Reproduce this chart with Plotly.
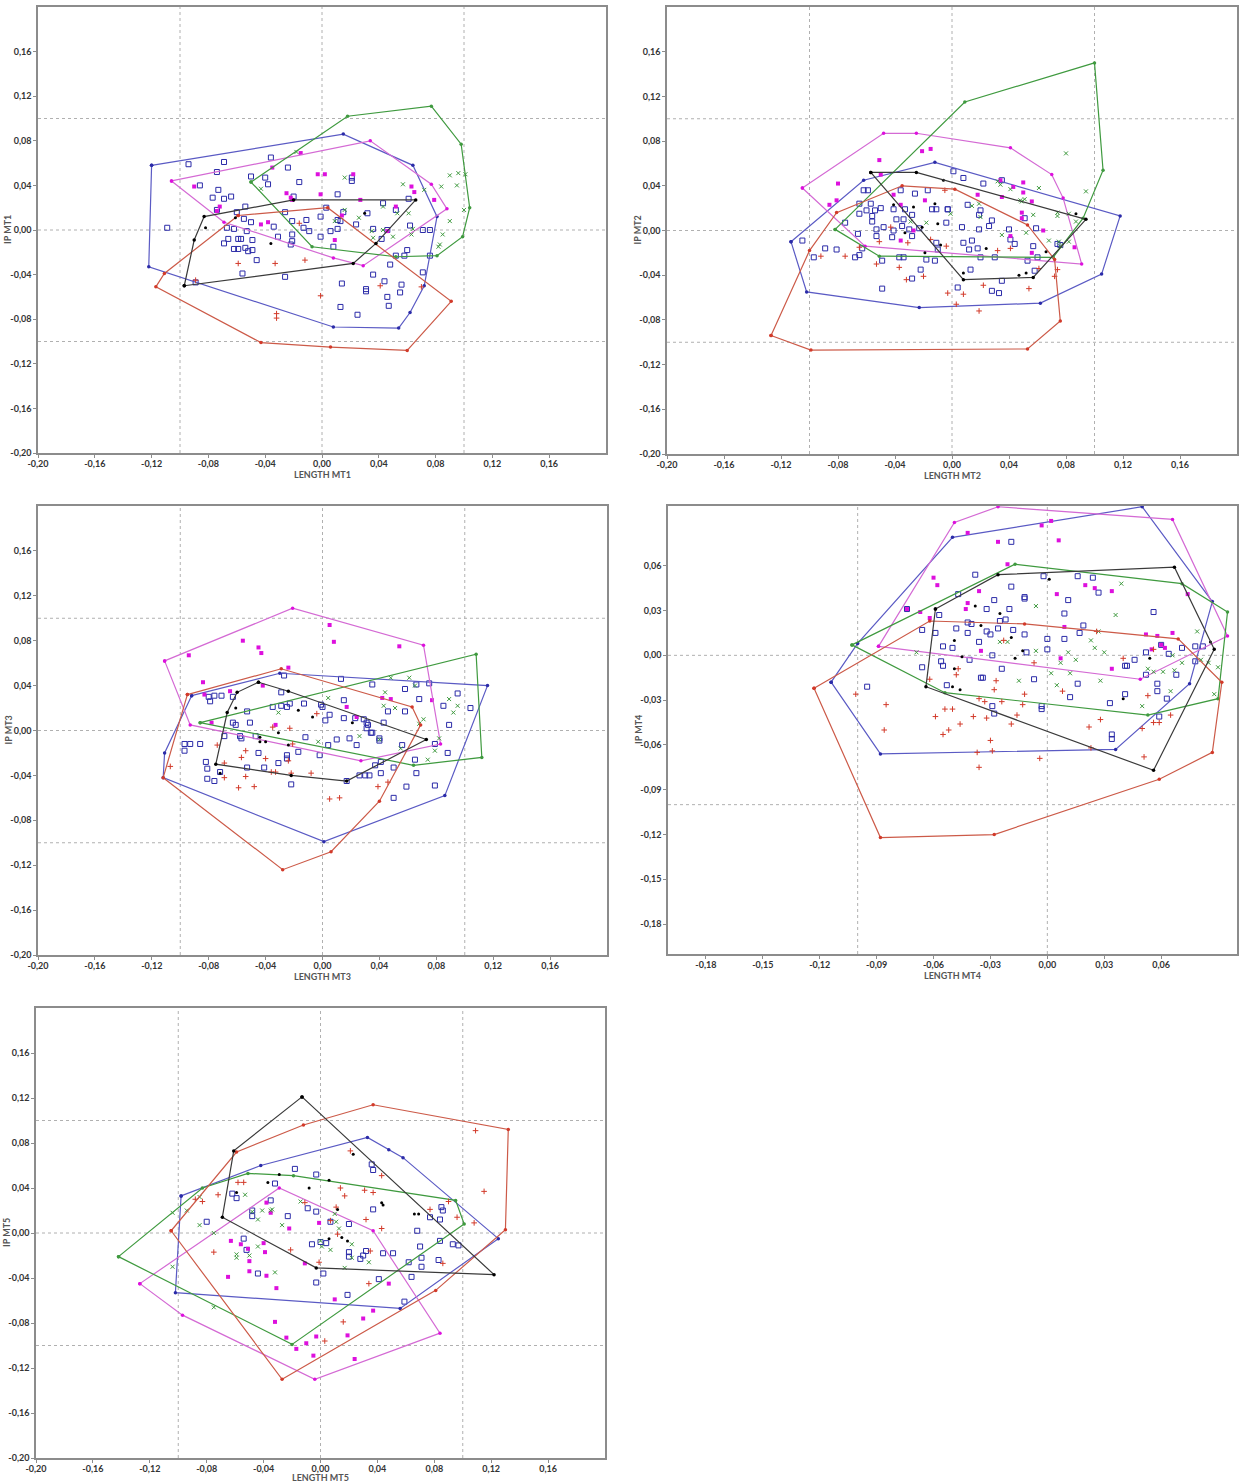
import plotly.graph_objects as go

# ---------------- DATA ----------------
# Panel MT1
MT1_BLUE_HULL = [(-0.120,0.058),(0.015,0.086),(0.064,0.058),(0.081,0.012),(0.072,-0.050),(0.062,-0.074),(0.054,-0.088),(0.008,-0.087),(-0.122,-0.033)]
MT1_BLUE_PTS = [(-0.109,0.002),(-0.094,0.059),(-0.086,0.040),(-0.077,0.029),(-0.073,0.036),(-0.074,0.052),(-0.069,0.028),(-0.069,0.061),(-0.064,0.030),(-0.074,0.018),(-0.067,0.002),(-0.066,-0.008),(-0.069,-0.012),(-0.062,0.001),(-0.060,0.016),(-0.059,-0.008),(-0.057,-0.008),(-0.062,-0.017),(-0.059,-0.017),(-0.056,-0.039),(-0.054,0.021),(-0.055,0.010),(-0.053,-0.001),(-0.054,-0.016),(-0.052,-0.019),(-0.050,0.007),(-0.049,-0.009),(-0.049,-0.018),(-0.046,-0.027),(-0.050,0.048),(-0.040,0.047),(-0.038,0.041),(-0.036,0.065),(-0.034,0.003),(-0.031,-0.006),(-0.026,0.016),(-0.026,-0.042),(-0.024,0.056),(-0.021,0.008),(-0.021,-0.004),(-0.021,-0.010),(-0.022,-0.013),(-0.020,0.030),(-0.016,0.043),(-0.013,0.002),(-0.011,0.009),(-0.009,-0.001),(-0.001,0.012),(-0.001,-0.006),(0.008,-0.015),(0.003,0.020),(0.006,-0.001),(0.011,0.009),(0.011,0.001),(0.013,0.008),(0.011,0.032),(0.015,0.016),(0.014,-0.048),(0.013,-0.069),(0.021,0.047),(0.021,0.044),(0.024,0.005),(0.025,-0.076),(0.031,-0.053),(0.031,-0.055),(0.032,0.015),(0.036,-0.040),(0.036,0.001),(0.042,-0.008),(0.043,0.024),(0.044,-0.046),(0.046,0.000),(0.048,-0.031),(0.046,-0.060),(0.047,-0.068),(0.052,0.018),(0.052,-0.023),(0.056,-0.049),(0.055,-0.056),(0.058,-0.023),(0.060,-0.018),(0.061,0.028),(0.062,0.004),(0.071,-0.038),(0.071,0.000),(0.076,0.000),(0.076,-0.023),(-0.089,-0.047)]
MT1_MAG_HULL = [(-0.106,0.044),(0.034,0.080),(0.077,0.041),(0.088,0.019),(0.029,-0.032),(0.008,-0.025),(-0.069,0.007)]
MT1_MAG_PTS = [(-0.090,0.039),(-0.072,0.021),(-0.074,0.017),(-0.043,0.005),(-0.038,0.007),(-0.035,0.056),(-0.025,0.033),(-0.022,0.029),(-0.021,0.027),(-0.015,0.069),(-0.003,0.050),(0.002,0.050),(-0.001,0.032),(0.009,-0.009),(0.014,0.013),(0.022,0.050),(0.027,0.027),(0.052,0.021),(0.063,0.039),(0.065,0.034),(0.079,0.027),(0.046,-0.001)]
MT1_GRN_HULL = [(-0.050,0.043),(0.018,0.102),(0.077,0.111),(0.098,0.077),(0.104,0.020),(0.099,-0.006),(0.081,-0.023),(0.052,-0.024),(-0.007,-0.015)]
MT1_GRN_PTS = [(-0.043,0.037),(-0.018,0.070),(0.016,0.047),(0.009,0.008),(0.016,0.018),(0.026,0.011),(0.035,-0.001),(0.043,0.000),(0.050,-0.006),(0.036,-0.007),(0.043,0.021),(0.053,0.015),(0.057,0.041),(0.061,0.015),(0.064,0.001),(0.063,-0.004),(0.085,-0.004),(0.083,-0.013),(0.082,-0.015),(0.084,0.039),(0.090,0.049),(0.096,0.051),(0.095,0.040),(0.101,0.050),(0.100,0.018),(0.090,0.008),(0.072,0.036)]
MT1_RED_HULL = [(-0.059,0.013),(0.004,0.020),(0.091,-0.064),(0.060,-0.108),(0.006,-0.105),(-0.043,-0.101),(-0.117,-0.051),(-0.111,-0.039)]
MT1_RED_PTS = [(-0.059,-0.030),(-0.033,-0.030),(-0.032,-0.075),(-0.032,-0.079),(-0.012,-0.027),(-0.016,0.006),(-0.001,-0.059),(0.041,-0.050),(0.070,-0.051),(-0.089,-0.045)]
MT1_BLK_HULL = [(-0.097,-0.050),(-0.090,-0.009),(-0.083,0.012),(-0.020,0.027),(0.066,0.027),(0.038,-0.012),(0.022,-0.030)]
MT1_BLK_PTS = [(-0.082,0.002),(-0.061,0.011),(-0.036,-0.012),(0.030,0.015)]

# Panel MT2
MT2_BLUE_HULL = [(-0.113,-0.010),(-0.102,-0.055),(-0.023,-0.069),(0.062,-0.065),(0.105,-0.039),(0.118,0.013),(-0.012,0.061),(-0.062,0.045)]
MT2_BLUE_PTS = [(-0.105,-0.009),(-0.089,-0.016),(-0.097,-0.024),(-0.081,-0.017),(-0.075,0.007),(-0.068,-0.024),(-0.066,-0.003),(-0.065,-0.022),(-0.065,0.015),(-0.065,0.024),(-0.063,-0.016),(-0.062,0.036),(-0.060,0.018),(-0.059,0.036),(-0.057,0.024),(-0.056,0.013),(-0.056,0.008),(-0.054,0.018),(-0.053,0.001),(-0.053,-0.005),(-0.050,0.020),(-0.049,-0.027),(-0.048,0.003),(-0.049,-0.052),(-0.042,-0.006),(-0.041,0.019),(-0.041,0.000),(-0.039,0.010),(-0.037,-0.024),(-0.036,0.036),(-0.035,0.004),(-0.034,-0.024),(-0.034,0.010),(-0.033,0.019),(-0.030,0.001),(-0.028,-0.043),(-0.028,0.014),(-0.028,-0.005),(-0.026,0.033),(-0.023,0.002),(-0.022,-0.035),(-0.018,-0.026),(-0.017,0.036),(-0.014,0.019),(-0.011,0.019),(-0.011,-0.011),(-0.010,-0.017),(-0.012,-0.027),(-0.004,0.007),(-0.003,0.019),(-0.003,0.019),(0.001,0.053),(0.004,-0.051),(0.007,0.003),(0.008,0.047),(0.008,-0.011),(0.011,0.023),(0.012,-0.017),(0.013,-0.035),(0.014,-0.009),(0.018,-0.016),(0.019,0.014),(0.020,0.018),(0.019,0.001),(0.022,0.042),(0.020,-0.024),(0.026,0.004),(0.028,0.009),(0.028,-0.054),(0.030,-0.024),(0.033,-0.056),(0.035,-0.045),(0.035,0.045),(0.040,0.001),(0.041,-0.008),(0.044,-0.012),(0.051,0.011),(0.053,-0.027),(0.057,-0.014),(0.058,-0.036),(0.059,0.002),(0.060,-0.024),(0.074,-0.012),(0.076,-0.013)]
MT2_MAG_HULL = [(-0.105,0.038),(-0.048,0.087),(-0.025,0.087),(0.041,0.074),(0.070,0.050),(0.078,0.029),(0.091,-0.030),(-0.061,-0.014)]
MT2_MAG_PTS = [(-0.051,0.063),(-0.015,0.073),(-0.021,0.071),(-0.050,0.050),(-0.080,0.042),(-0.081,0.027),(-0.086,0.023),(-0.041,0.032),(-0.036,0.023),(-0.036,-0.009),(-0.027,0.000),(-0.019,0.027),(0.018,0.032),(0.034,0.045),(0.035,0.030),(0.043,0.039),(0.050,0.043),(0.050,0.034),(0.056,0.026),(0.049,0.016),(0.049,0.011),(0.041,-0.005),(0.064,0.000),(0.086,-0.015),(0.056,-0.020)]
MT2_GRN_HULL = [(-0.082,0.001),(0.009,0.115),(0.100,0.150),(0.106,0.054),(0.092,0.011),(0.071,-0.024),(-0.051,-0.023)]
MT2_GRN_PTS = [(-0.029,0.008),(-0.018,0.007),(-0.001,0.015),(0.019,0.024),(0.014,0.022),(0.020,0.012),(0.032,0.044),(0.034,0.041),(0.041,0.037),(0.048,0.027),(0.049,0.026),(0.051,0.028),(0.057,0.014),(0.061,0.038),(0.052,-0.002),(0.035,-0.004),(0.068,-0.009),(0.074,0.016),(0.074,0.013),(0.075,-0.010),(0.076,-0.014),(0.080,0.069),(0.082,0.015),(0.087,0.008),(0.094,0.035),(0.082,-0.010)]
MT2_RED_HULL = [(-0.127,-0.094),(-0.099,-0.107),(0.053,-0.106),(0.076,-0.081),(0.072,-0.026),(0.053,0.005),(0.002,0.037),(-0.035,0.040),(-0.081,0.016),(-0.100,-0.018)]
MT2_RED_PTS = [(-0.092,-0.023),(-0.075,-0.023),(-0.065,-0.015),(-0.051,-0.010),(-0.053,-0.030),(-0.037,-0.033),(-0.032,-0.044),(-0.020,-0.041),(-0.031,-0.011),(-0.015,-0.008),(-0.004,-0.014),(-0.003,-0.056),(0.008,-0.057),(0.003,-0.066),(0.019,-0.072),(0.022,-0.049),(0.054,-0.052),(0.041,-0.016),(0.061,-0.034),(0.072,-0.041),(0.074,-0.035),(-0.005,0.036),(0.032,-0.018),(-0.043,0.003)]
MT2_BLK_HULL = [(-0.057,0.052),(-0.025,0.052),(0.094,0.010),(0.057,-0.042),(0.008,-0.044)]
MT2_BLK_PTS = [(-0.041,0.023),(-0.027,0.021),(-0.012,0.024),(-0.021,0.003),(-0.033,-0.002),(-0.010,0.006),(-0.008,-0.013),(-0.006,0.045),(-0.019,-0.020),(0.008,-0.038),(0.024,-0.016),(0.047,-0.040),(0.052,-0.038),(0.066,-0.019),(0.087,0.015)]

# Panel MT3
MT3_BLUE_HULL = [(-0.092,0.031),(-0.030,0.051),(0.116,0.040),(0.086,-0.058),(0.001,-0.099),(-0.112,-0.042),(-0.111,-0.020)]
MT3_BLUE_PTS = [(-0.097,-0.012),(-0.093,-0.012),(-0.097,-0.018),(-0.086,-0.012),(-0.080,0.030),(-0.079,0.026),(-0.076,0.031),(-0.071,0.031),(-0.082,-0.028),(-0.081,-0.034),(-0.081,-0.043),(-0.076,-0.045),(-0.072,-0.037),(-0.069,-0.005),(-0.063,0.030),(-0.063,0.007),(-0.061,0.005),(-0.058,-0.005),(-0.057,-0.007),(-0.053,0.017),(-0.053,-0.033),(-0.051,0.007),(-0.047,-0.005),(-0.045,-0.020),(-0.041,-0.033),(-0.035,0.021),(-0.031,-0.029),(-0.029,0.034),(-0.029,0.022),(-0.027,0.049),(-0.025,-0.022),(-0.025,0.021),(-0.025,-0.025),(-0.023,0.024),(-0.022,-0.048),(-0.017,-0.019),(-0.013,0.024),(-0.012,-0.006),(-0.002,-0.022),(-0.001,0.023),(0.000,0.021),(0.002,0.009),(0.005,0.014),(0.004,-0.013),(0.010,-0.008),(0.013,0.046),(0.015,0.011),(0.015,0.027),(0.017,-0.045),(0.019,-0.007),(0.023,0.011),(0.024,-0.013),(0.026,-0.040),(0.029,0.010),(0.030,-0.040),(0.031,0.007),(0.031,0.002),(0.032,0.005),(0.033,-0.040),(0.034,-0.002),(0.035,0.041),(0.035,-0.002),(0.037,-0.031),(0.040,-0.007),(0.040,-0.009),(0.041,-0.028),(0.041,-0.038),(0.043,0.007),(0.046,0.017),(0.050,-0.060),(0.050,-0.033),(0.056,-0.013),(0.058,0.017),(0.058,0.037),(0.059,-0.050),(0.065,-0.026),(0.066,-0.038),(0.066,0.041),(0.068,0.028),(0.075,0.042),(0.079,-0.012),(0.079,-0.049),(0.085,0.022),(0.088,-0.020),(0.089,0.005),(0.095,0.033),(0.104,0.020)]
MT3_MAG_HULL = [(-0.111,0.062),(-0.021,0.109),(0.071,0.076),(0.083,-0.012),(0.027,-0.027),(-0.093,0.005)]
MT3_MAG_PTS = [(-0.094,0.067),(-0.056,0.080),(-0.045,0.074),(-0.043,0.069),(0.005,0.094),(0.008,0.079),(0.054,0.075),(-0.024,0.056),(-0.084,0.043),(-0.083,0.032),(-0.065,0.035),(-0.042,0.040),(-0.033,0.005),(0.017,0.021),(0.024,0.012),(0.042,0.029),(0.048,0.028),(0.077,0.027),(-0.078,0.007)]
MT3_GRN_HULL = [(-0.086,0.007),(0.108,0.068),(0.112,-0.024),(0.064,-0.031)]
MT3_GRN_PTS = [(-0.031,0.016),(0.004,0.029),(-0.003,-0.010),(0.026,-0.005),(0.040,-0.008),(0.043,0.022),(0.044,0.034),(0.048,0.047),(0.051,0.020),(0.061,0.047),(0.065,0.040),(0.068,0.006),(0.071,0.010),(0.055,-0.016),(0.079,-0.018),(0.089,0.028),(0.092,0.016),(0.095,0.022),(0.074,-0.026),(0.082,-0.007)]
MT3_RED_HULL = [(-0.095,0.032),(-0.029,0.055),(0.063,0.021),(0.069,0.005),(0.040,-0.063),(0.006,-0.108),(-0.028,-0.124),(-0.112,-0.042)]
MT3_RED_PTS = [(-0.107,-0.032),(-0.074,-0.013),(-0.069,-0.029),(-0.069,-0.042),(-0.059,-0.051),(-0.057,-0.024),(-0.054,-0.018),(-0.054,-0.041),(-0.048,-0.050),(-0.040,-0.025),(-0.036,-0.037),(-0.033,-0.037),(-0.023,0.002),(-0.022,-0.038),(-0.021,-0.012),(-0.024,-0.027),(-0.008,-0.038),(0.005,-0.061),(0.012,-0.060),(-0.004,0.015),(0.039,-0.050),(0.046,-0.046),(-0.035,0.003)]
MT3_BLK_HULL = [(-0.045,0.043),(-0.024,0.035),(0.073,-0.008),(0.017,-0.045),(-0.022,-0.040),(-0.075,-0.030),(-0.067,0.016),(-0.060,0.034)]
MT3_BLK_PTS = [(-0.061,0.020),(-0.044,-0.006),(-0.040,-0.010),(-0.044,-0.010),(-0.031,-0.002),(-0.024,-0.013),(-0.017,0.018),(-0.007,0.012),(0.021,0.007),(-0.072,-0.038)]

# Panel MT4
MT4_BLUE_HULL = [(-0.114,-0.018),(-0.100,0.008),(-0.050,0.079),(0.050,0.0995),(0.087,0.036),(0.075,-0.019),(0.036,-0.063),(-0.088,-0.066)]
MT4_BLUE_PTS = [(-0.095,-0.021),(-0.074,0.031),(-0.066,0.017),(-0.066,-0.008),(-0.059,0.015),(-0.057,0.027),(-0.056,-0.004),(-0.055,-0.007),(-0.055,0.006),(-0.053,-0.020),(-0.050,0.005),(-0.048,0.018),(-0.047,0.041),(-0.042,0.022),(-0.042,0.015),(-0.041,-0.003),(-0.040,0.021),(-0.038,0.054),(-0.036,0.009),(-0.035,-0.015),(-0.034,-0.015),(-0.032,0.031),(-0.032,0.016),(-0.030,0.014),(-0.029,0.000),(-0.029,-0.034),(-0.028,0.037),(-0.028,-0.039),(-0.026,0.018),(-0.025,0.023),(-0.024,-0.009),(-0.022,0.024),(-0.020,0.031),(-0.019,0.076),(-0.019,0.046),(-0.018,0.017),(-0.012,0.038),(-0.012,0.039),(-0.012,0.014),(-0.011,0.002),(-0.007,-0.016),(-0.003,-0.034),(-0.003,-0.036),(-0.002,0.053),(0.000,0.011),(0.000,0.004),(0.009,0.028),(0.009,0.011),(0.011,0.037),(0.012,-0.028),(0.016,0.053),(0.016,-0.019),(0.017,0.015),(0.019,0.020),(0.024,0.052),(0.027,0.042),(0.033,-0.032),(0.034,-0.053),(0.034,-0.056),(0.041,-0.026),(0.041,-0.007),(0.042,-0.007),(0.046,-0.003),(0.052,0.002),(0.052,-0.013),(0.056,0.029),(0.058,-0.019),(0.058,-0.024),(0.059,-0.041),(0.060,0.007),(0.063,-0.029),(0.064,0.001),(0.068,-0.013),(0.071,0.005),(0.078,-0.004),(0.078,0.006),(0.082,0.006)]
MT4_MAG_HULL = [(-0.089,0.006),(-0.049,0.089),(-0.026,0.0995),(0.066,0.091),(0.095,0.013),(0.049,-0.016)]
MT4_MAG_PTS = [(-0.042,0.082),(0.002,0.090),(-0.003,0.087),(0.006,0.077),(-0.026,0.076),(-0.021,0.061),(-0.060,0.052),(-0.058,0.047),(-0.074,0.031),(-0.067,0.029),(-0.062,0.025),(-0.036,0.043),(-0.042,0.035),(-0.043,0.031),(-0.035,0.003),(0.020,0.047),(0.025,0.045),(0.034,0.043),(0.005,0.041),(0.009,0.019),(0.007,-0.002),(0.034,-0.009),(0.052,0.014),(0.058,0.013),(0.055,0.004),(0.060,0.007),(0.062,0.005),(0.066,0.015),(0.074,0.041)]
MT4_GRN_HULL = [(-0.103,0.007),(-0.017,0.061),(0.071,0.048),(0.095,0.029),(0.090,-0.029),(0.053,-0.040),(-0.054,-0.025)]
MT4_GRN_PTS = [(-0.069,0.002),(-0.025,0.009),(-0.021,0.009),(-0.006,0.033),(-0.006,0.003),(-0.015,-0.017),(0.002,-0.012),(0.005,-0.020),(0.007,-0.005),(0.011,0.002),(0.012,-0.012),(0.015,-0.003),(0.023,0.010),(0.025,0.005),(0.027,0.016),(0.028,-0.017),(0.030,0.002),(0.036,0.027),(0.039,0.048),(0.050,-0.034),(0.053,-0.009),(0.056,-0.011),(0.061,-0.011),(0.065,-0.024),(0.066,0.000),(0.067,-0.010),(0.071,-0.005),(0.079,0.016),(0.081,-0.003),(0.090,-0.008),(0.088,-0.026),(0.085,-0.005)]
MT4_RED_HULL = [(-0.123,-0.022),(-0.062,0.023),(-0.012,0.021),(0.069,0.011),(0.092,-0.018),(0.087,-0.065),(0.059,-0.083),(-0.028,-0.120),(-0.088,-0.122)]
MT4_RED_PTS = [(-0.101,-0.026),(-0.085,-0.033),(-0.086,-0.050),(-0.062,-0.016),(-0.059,-0.041),(-0.054,-0.036),(-0.055,-0.053),(-0.052,-0.050),(-0.050,-0.036),(-0.048,-0.013),(-0.047,-0.009),(-0.046,-0.046),(-0.039,-0.041),(-0.037,-0.065),(-0.036,-0.075),(-0.036,-0.029),(-0.033,-0.031),(-0.032,-0.042),(-0.030,-0.057),(-0.029,-0.064),(-0.028,-0.023),(-0.027,-0.017),(-0.024,-0.031),(-0.023,0.010),(-0.019,-0.046),(-0.016,-0.040),(-0.012,-0.026),(-0.013,-0.033),(-0.007,-0.005),(-0.004,-0.069),(0.008,-0.024),(0.022,-0.048),(0.023,-0.062),(0.028,-0.043),(0.040,-0.002),(0.050,-0.049),(0.053,-0.027),(0.056,-0.045),(0.059,-0.045),(0.065,-0.040),(0.051,-0.068),(0.056,0.004),(0.026,0.016)]
MT4_BLK_HULL = [(-0.059,0.031),(-0.026,0.054),(0.067,0.059),(0.088,0.004),(0.056,-0.077),(-0.064,-0.021)]
MT4_BLK_PTS = [(-0.038,0.033),(-0.035,0.020),(-0.025,0.028),(-0.019,0.012),(0.001,0.051),(-0.049,0.010),(-0.045,-0.001),(-0.049,-0.009),(-0.050,-0.021),(-0.046,-0.023),(-0.017,-0.002),(-0.013,0.003),(0.040,-0.029),(0.054,-0.002),(0.086,0.009)]

# Panel MT5
MT5_BLUE_HULL = [(-0.098,0.033),(-0.042,0.060),(0.033,0.085),(0.048,0.074),(0.058,0.067),(0.125,-0.005),(0.056,-0.067),(-0.102,-0.053)]
MT5_BLUE_PTS = [(-0.080,0.010),(-0.062,0.035),(-0.059,0.031),(-0.054,-0.005),(-0.052,-0.015),(-0.048,0.015),(-0.048,0.020),(-0.044,-0.036),(-0.035,0.029),(-0.032,0.044),(-0.023,0.015),(-0.018,0.057),(-0.009,0.022),(-0.006,-0.010),(-0.003,0.052),(-0.003,0.019),(-0.003,-0.044),(0.000,-0.008),(0.002,-0.036),(0.004,-0.009),(0.007,0.010),(0.019,-0.055),(0.020,0.008),(0.020,-0.017),(0.020,-0.021),(0.028,-0.023),(0.030,-0.020),(0.032,-0.016),(0.036,0.061),(0.037,0.056),(0.037,0.021),(0.041,-0.041),(0.044,-0.018),(0.051,-0.018),(0.059,-0.061),(0.062,-0.026),(0.064,-0.039),(0.068,0.002),(0.070,-0.012),(0.071,-0.022),(0.071,-0.030),(0.077,0.014),(0.083,-0.024),(0.084,0.012),(0.084,-0.007),(0.085,0.023),(0.086,0.020),(0.093,-0.010),(0.097,-0.011)]
MT5_MAG_HULL = [(-0.127,-0.045),(-0.029,0.040),(0.037,0.002),(0.084,-0.089),(-0.004,-0.130),(-0.097,-0.073)]
MT5_MAG_PTS = [(-0.063,-0.007),(-0.056,-0.010),(-0.051,-0.014),(-0.050,-0.025),(-0.050,-0.034),(-0.065,-0.039),(-0.038,0.027),(-0.035,0.018),(-0.040,-0.009),(-0.039,-0.017),(-0.038,-0.038),(-0.031,-0.049),(-0.032,-0.079),(-0.022,0.004),(-0.024,-0.093),(-0.017,-0.103),(-0.010,-0.098),(-0.003,-0.092),(-0.005,-0.109),(-0.001,0.009),(0.010,-0.059),(0.019,-0.091),(0.030,-0.076),(0.037,-0.069),(0.048,-0.045),(0.024,-0.112),(-0.011,-0.027)]
MT5_GRN_HULL = [(-0.142,-0.021),(-0.083,0.040),(-0.051,0.053),(-0.019,0.051),(0.095,0.029),(0.101,0.008),(-0.020,-0.099)]
MT5_GRN_PTS = [(-0.104,0.018),(-0.104,-0.030),(-0.094,0.020),(-0.085,0.007),(-0.085,0.032),(-0.075,0.000),(-0.075,-0.066),(-0.059,-0.019),(-0.059,-0.022),(-0.053,0.034),(-0.050,-0.020),(-0.048,0.019),(-0.044,0.012),(-0.044,-0.012),(-0.041,0.020),(-0.035,0.020),(-0.034,0.021),(-0.032,-0.035),(-0.027,0.007),(-0.014,0.028),(0.000,-0.007),(0.001,-0.012),(0.007,-0.015),(0.010,0.017),(0.011,0.010),(0.013,0.004),(0.017,-0.031),(0.022,-0.010),(0.022,-0.022),(0.034,-0.026)]
MT5_RED_HULL = [(-0.105,0.002),(-0.059,0.072),(-0.012,0.096),(0.037,0.114),(0.132,0.092),(0.130,0.003),(0.081,-0.051),(-0.027,-0.130)]
MT5_RED_PTS = [(-0.058,0.045),(-0.054,0.045),(-0.072,0.034),(-0.083,0.028),(-0.088,0.030),(-0.075,-0.017),(-0.021,-0.015),(-0.011,0.027),(0.011,0.023),(0.014,0.040),(0.017,0.033),(0.021,0.073),(0.031,0.038),(0.037,0.036),(0.032,0.012),(0.035,-0.016),(0.043,0.051),(0.043,0.004),(0.077,0.021),(0.090,0.028),(0.096,0.014),(0.108,0.009),(0.115,0.037),(0.109,0.091),(0.086,-0.027),(0.016,-0.079),(0.003,-0.096),(0.034,-0.045),(-0.001,-0.026),(0.007,0.011),(0.012,-0.001)]
MT5_BLK_HULL = [(-0.013,0.121),(0.122,-0.037),(-0.003,-0.031),(-0.069,0.014),(-0.061,0.073)]
MT5_BLK_PTS = [(-0.059,0.036),(-0.037,0.045),(-0.029,0.052),(-0.008,0.040),(0.006,0.047),(0.023,0.070),(0.012,0.021),(0.015,-0.004),(0.019,-0.007),(0.006,-0.005),(0.043,0.027),(0.044,0.025),(0.066,0.017),(0.069,0.017)]

PANELS = ["MT1", "MT2", "MT3", "MT4", "MT5"]
X_TITLES = ["LENGTH MT1", "LENGTH MT2", "LENGTH MT3", "LENGTH MT4", "LENGTH MT5"]
Y_TITLES = ["IP MT1", "IP MT2", "IP MT3", "IP MT4", "IP MT5"]
TICKS_STD = [-0.20, -0.16, -0.12, -0.08, -0.04, 0.00, 0.04, 0.08, 0.12, 0.16]
TICKS_MT4 = [-0.18, -0.15, -0.12, -0.09, -0.06, -0.03, 0.00, 0.03, 0.06]

DATA = {
    "MT1": [MT1_BLUE_HULL, MT1_BLUE_PTS, MT1_MAG_HULL, MT1_MAG_PTS, MT1_GRN_HULL, MT1_GRN_PTS, MT1_RED_HULL, MT1_RED_PTS, MT1_BLK_HULL, MT1_BLK_PTS],
    "MT2": [MT2_BLUE_HULL, MT2_BLUE_PTS, MT2_MAG_HULL, MT2_MAG_PTS, MT2_GRN_HULL, MT2_GRN_PTS, MT2_RED_HULL, MT2_RED_PTS, MT2_BLK_HULL, MT2_BLK_PTS],
    "MT3": [MT3_BLUE_HULL, MT3_BLUE_PTS, MT3_MAG_HULL, MT3_MAG_PTS, MT3_GRN_HULL, MT3_GRN_PTS, MT3_RED_HULL, MT3_RED_PTS, MT3_BLK_HULL, MT3_BLK_PTS],
    "MT4": [MT4_BLUE_HULL, MT4_BLUE_PTS, MT4_MAG_HULL, MT4_MAG_PTS, MT4_GRN_HULL, MT4_GRN_PTS, MT4_RED_HULL, MT4_RED_PTS, MT4_BLK_HULL, MT4_BLK_PTS],
    "MT5": [MT5_BLUE_HULL, MT5_BLUE_PTS, MT5_MAG_HULL, MT5_MAG_PTS, MT5_GRN_HULL, MT5_GRN_PTS, MT5_RED_HULL, MT5_RED_PTS, MT5_BLK_HULL, MT5_BLK_PTS],
}

# ---------------- STYLE ----------------
W, H = 1240, 1483
# plot-area pixel boxes (left, top, right, bottom)
BOXES = [(38, 7, 606, 453), (667, 7, 1237, 454), (38, 506, 607, 955), (668, 506, 1237, 954), (36, 1008, 605, 1458)]
TITLE_GAP = [21, 21, 21, 21, 19]
GROUPS = [
    # (line colour, marker colour, symbol, size, marker line width)
    ("#5a5ac4", "#2b2ba8", "square-open", 5, 1),
    ("#d46ad4", "#dd10dd", "square", 4, 0),
    ("#3f9a3f", "#3f9a3f", "x-thin-open", 4, 1),
    ("#cc5a48", "#d23a2a", "cross-thin-open", 4, 1),
    ("#3a3a3a", "#000000", "circle", 3, 0),
]
FONT = "Lato, Liberation Sans, sans-serif"

def fmt(v):
    return ("%.2f" % v).replace(".", ",")

fig = go.Figure()
layout = dict(width=W, height=H, margin=dict(l=0, r=0, t=0, b=0), paper_bgcolor="white",
              plot_bgcolor="white", showlegend=False, shapes=[], annotations=[])
TF = dict(family=FONT, size=9, color="#333333", weight="bold")

for i, p in enumerate(PANELS):
    n = "" if i == 0 else str(i + 1)
    xa, ya = "x" + n, "y" + n
    l, t, r, b = BOXES[i]
    ticks = TICKS_MT4 if p == "MT4" else TICKS_STD
    rng = [-0.2, 0.1] if p == "MT4" else [-0.2, 0.2]
    axcommon = dict(range=rng, tickvals=ticks, ticktext=[fmt(v) for v in ticks], showgrid=False,
                    zeroline=False, showline=True, linecolor="#8c8c8c", linewidth=1.5, mirror=True,
                    ticks="outside", ticklen=3, tickcolor="#8c8c8c", tickfont=TF, automargin=False)
    layout["xaxis" + n] = dict(axcommon, domain=[l / W, r / W], anchor=ya, ticklabelstandoff=-2)
    layout["yaxis" + n] = dict(axcommon, domain=[1 - b / H, 1 - t / H], anchor=xa)
    # dotted reference lines
    refs = [-0.1, 0.0] if p == "MT4" else [-0.1, 0.0, 0.1]
    for v in refs:
        layout["shapes"].append(dict(type="line", xref=xa, yref=ya + " domain", x0=v, x1=v, y0=0, y1=1,
                                     line=dict(color="#b0b0b0", width=1, dash="dot"), layer="below"))
        layout["shapes"].append(dict(type="line", xref=xa + " domain", yref=ya, x0=0, x1=1, y0=v, y1=v,
                                     line=dict(color="#b0b0b0", width=1, dash="dot"), layer="below"))
    # axis titles
    layout["annotations"].append(dict(xref="paper", yref="paper", x=((l + r) / 2) / W, y=1 - (b + TITLE_GAP[i]) / H,
                                      text=X_TITLES[i], showarrow=False, xanchor="center", yanchor="middle",
                                      font=dict(family=FONT, size=9, color="#555555", weight="bold")))
    layout["annotations"].append(dict(xref="paper", yref="paper", x=(l - 30) / W, y=1 - ((t + b) / 2) / H,
                                      text=Y_TITLES[i], showarrow=False, textangle=-90, xanchor="center", yanchor="middle",
                                      font=dict(family=FONT, size=9, color="#555555", weight="bold")))
    lists = DATA[p]
    for g, (lc, mc, sym, sz, mlw) in enumerate(GROUPS):
        hull, pts = lists[2 * g], lists[2 * g + 1]
        fig.add_trace(go.Scatter(x=[q[0] for q in pts], y=[q[1] for q in pts], mode="markers", xaxis=xa, yaxis=ya,
                                 marker=dict(symbol=sym, size=sz, color=mc, line=dict(width=mlw, color=mc)),
                                 hoverinfo="skip"))
        hx = [q[0] for q in hull] + [hull[0][0]]
        hy = [q[1] for q in hull] + [hull[0][1]]
        fig.add_trace(go.Scatter(x=hx, y=hy, mode="lines+markers", xaxis=xa, yaxis=ya,
                                 line=dict(color=lc, width=1.2),
                                 marker=dict(symbol="circle", size=3.5, color=mc),
                                 hoverinfo="skip"))

fig.update_layout(**layout)
fig.write_html("out.html")
